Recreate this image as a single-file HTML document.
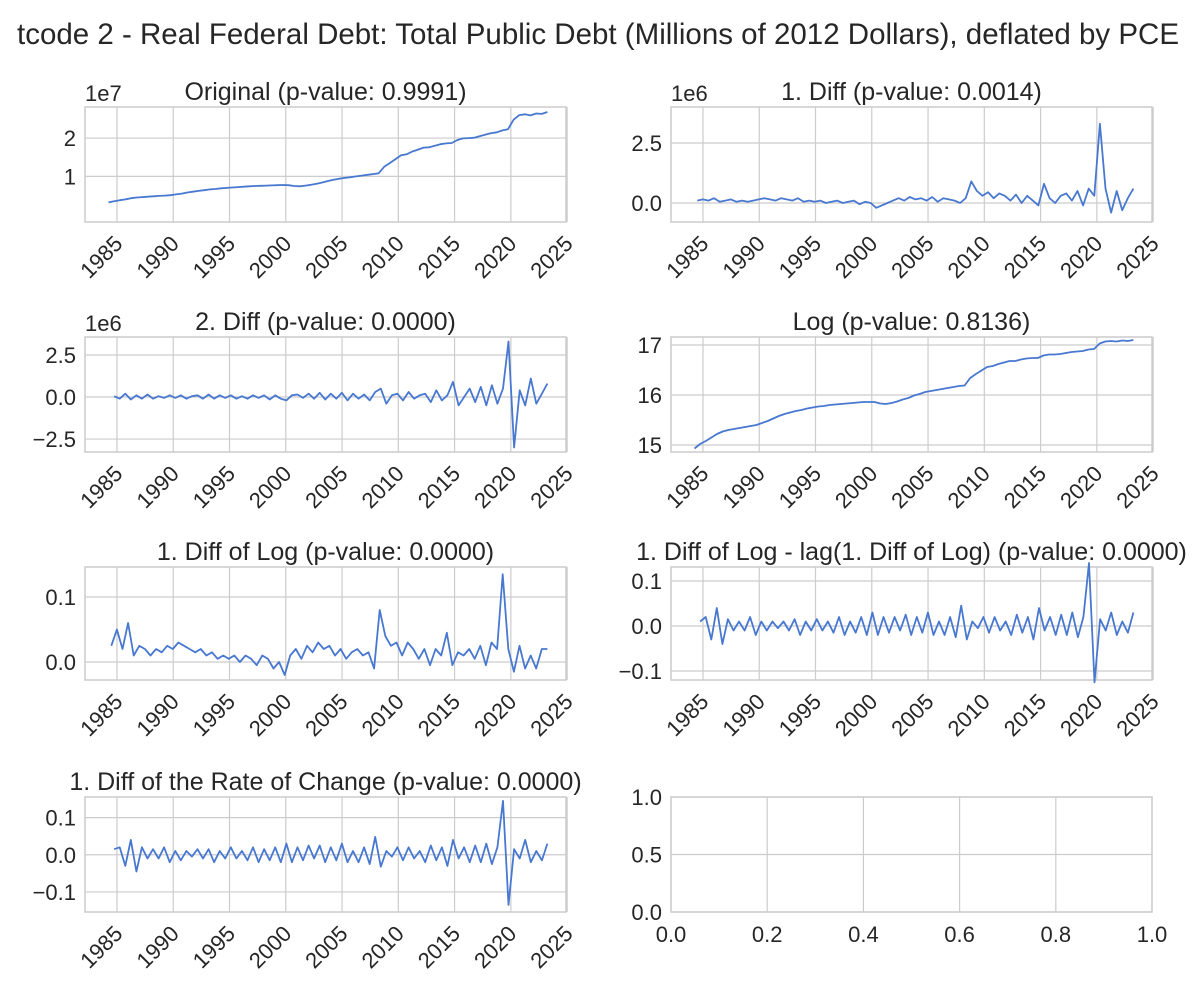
<!DOCTYPE html>
<html><head><meta charset="utf-8">
<style>
html,body{margin:0;padding:0;background:#fff;}
svg{display:block;font-family:"Liberation Sans","DejaVu Sans",sans-serif;}
</style></head>
<body>
<svg id="fig" width="1200" height="1000" viewBox="0 0 1200 1000">
<text x="598" y="44" text-anchor="middle" font-size="29.5" fill="#262626">tcode 2 - Real Federal Debt: Total Public Debt (Millions of 2012 Dollars), deflated by PCE</text>
</svg>
<script>
const startYear = 1984.0;
const endYear = 2023.25;
const xTickLabels = ['1985','1990','1995','2000','2005','2010','2015','2020','2025'];
const seriesOriginal = [3.2,3.5,3.8,4.0,4.3,4.5,4.6,4.7,4.8,4.9,5.0,5.1,5.3,5.5,5.8,6.0,6.2,6.4,6.6,6.7,6.9,7.0,7.1,7.2,7.3,7.4,7.5,7.55,7.6,7.65,7.7,7.75,7.7,7.5,7.4,7.6,7.8,8.1,8.4,8.8,9.1,9.4,9.6,9.8,10.0,10.2,10.4,10.6,10.8,12.5,13.5,14.5,15.5,15.8,16.5,17.0,17.5,17.6,18.0,18.4,18.6,18.7,19.5,19.9,20.0,20.1,20.5,20.9,21.3,21.5,22.0,22.3,24.8,26.0,26.2,25.9,26.4,26.3,26.8];
const seriesDiff = [0.1,0.15,0.1,0.2,0.05,0.1,0.15,0.05,0.1,0.05,0.1,0.15,0.2,0.15,0.1,0.2,0.15,0.1,0.2,0.05,0.1,0.05,0.1,0.0,0.05,0.1,0.0,0.05,0.1,-0.05,0.05,0.0,-0.2,-0.1,0.0,0.1,0.2,0.1,0.25,0.15,0.2,0.1,0.25,0.05,0.2,0.15,0.1,0.0,0.2,0.9,0.5,0.3,0.45,0.2,0.4,0.3,0.1,0.35,0.0,0.3,0.1,-0.1,0.8,0.2,0.0,0.3,0.4,0.1,0.5,-0.1,0.6,0.3,3.3,0.6,-0.4,0.5,-0.3,0.2,0.6];
const seriesDiff2 = [0.05,-0.1,0.2,-0.15,0.1,-0.1,0.15,-0.1,0.05,-0.05,0.1,-0.05,0.1,-0.1,0.05,0.1,-0.1,0.15,-0.1,0.1,-0.05,0.1,-0.1,0.05,-0.1,0.1,-0.05,0.1,-0.15,0.1,-0.1,-0.2,0.1,0.15,-0.05,0.2,-0.1,0.25,-0.15,0.2,-0.1,0.25,-0.2,0.2,-0.1,0.15,-0.2,0.3,0.5,-0.4,0.1,0.2,-0.2,0.3,-0.1,0.1,0.2,-0.3,0.4,-0.2,0.1,0.9,-0.5,0.0,0.5,-0.3,0.6,-0.5,0.7,-0.4,0.5,3.3,-3.0,0.4,-0.5,1.1,-0.4,0.2,0.8];
const seriesLog = [14.93,15.02,15.08,15.15,15.22,15.27,15.30,15.32,15.34,15.36,15.38,15.40,15.44,15.48,15.53,15.58,15.62,15.65,15.68,15.70,15.73,15.75,15.77,15.78,15.80,15.81,15.82,15.83,15.84,15.85,15.86,15.86,15.86,15.83,15.82,15.84,15.87,15.91,15.94,15.99,16.02,16.06,16.08,16.10,16.12,16.14,16.16,16.18,16.19,16.34,16.42,16.49,16.56,16.58,16.62,16.65,16.68,16.68,16.71,16.73,16.74,16.74,16.79,16.81,16.81,16.82,16.84,16.86,16.87,16.88,16.91,16.92,17.03,17.07,17.08,17.07,17.09,17.08,17.10];
const seriesDiffLog = [0.025,0.05,0.02,0.06,0.01,0.025,0.02,0.01,0.02,0.015,0.025,0.02,0.03,0.025,0.02,0.015,0.02,0.01,0.015,0.005,0.01,0.005,0.01,0.0,0.01,0.005,-0.005,0.01,0.005,-0.01,0.0,-0.02,0.01,0.02,0.005,0.025,0.015,0.03,0.02,0.025,0.01,0.02,0.005,0.015,0.02,0.01,0.015,-0.01,0.08,0.04,0.025,0.03,0.01,0.03,0.02,0.005,0.02,-0.005,0.02,0.01,0.045,-0.005,0.015,0.01,0.02,0.005,0.025,-0.005,0.03,0.02,0.135,0.02,-0.015,0.025,-0.01,0.01,-0.01,0.02,0.02];
const seriesLagDiff = [0.01,0.02,-0.03,0.04,-0.04,0.015,-0.01,0.01,-0.01,0.02,-0.02,0.01,-0.01,0.01,-0.005,0.01,-0.01,0.015,-0.02,0.01,-0.01,0.015,-0.01,0.01,-0.015,0.02,-0.02,0.01,-0.015,0.02,-0.02,0.03,-0.02,0.02,-0.015,0.02,-0.01,0.025,-0.02,0.02,-0.015,0.03,-0.02,0.01,-0.02,0.02,-0.025,0.045,-0.03,0.01,-0.005,0.02,-0.015,0.02,-0.01,0.01,-0.02,0.025,-0.015,0.02,-0.03,0.04,-0.01,0.02,-0.02,0.025,-0.02,0.03,-0.025,0.02,0.14,-0.125,0.015,-0.01,0.03,-0.02,0.01,-0.015,0.03];
const seriesRateDiff = [0.015,0.02,-0.03,0.04,-0.045,0.02,-0.01,0.015,-0.01,0.02,-0.02,0.01,-0.015,0.01,-0.005,0.015,-0.01,0.015,-0.02,0.01,-0.01,0.02,-0.01,0.01,-0.015,0.02,-0.02,0.015,-0.015,0.02,-0.02,0.03,-0.02,0.02,-0.015,0.025,-0.01,0.025,-0.02,0.02,-0.015,0.03,-0.02,0.01,-0.02,0.02,-0.025,0.048,-0.032,0.01,-0.005,0.02,-0.015,0.02,-0.01,0.01,-0.02,0.025,-0.015,0.02,-0.03,0.04,-0.01,0.02,-0.02,0.025,-0.02,0.03,-0.025,0.02,0.145,-0.135,0.015,-0.01,0.04,-0.02,0.01,-0.015,0.03];

const NS='http://www.w3.org/2000/svg';
const svg=document.getElementById('fig');
function mk(tag,attrs,parent){const e=document.createElementNS(NS,tag);for(const k in attrs)e.setAttribute(k,attrs[k]);(parent||svg).appendChild(e);return e;}

const GRID='#cccccc', TXT='#262626', LINE='#4878d0';
const xMin=1982.16, xMax=2024.9;
const TICK=22, TITLE=25;

function panel(cfg){
  const g=mk('g',{});
  
  
  const L=cfg.x0,R=cfg.x1,T=cfg.y0,B=cfg.y1;
  const xs=v=>L+(v-cfg.xmin)/(cfg.xmax-cfg.xmin)*(R-L);
  const ys=v=>B-(v-cfg.ymin)/(cfg.ymax-cfg.ymin)*(B-T);
  cfg.xticks.forEach((v,i)=>{
    const l=mk('line',{x1:xs(v),x2:xs(v),y1:T,y2:B,stroke:GRID,'stroke-width':1.2},g);
    
    
    const tx=xs(v), ty=B+14;
    let t;
    if(cfg.rot){
      t=mk('text',{x:tx+7,y:ty+9,'font-size':TICK,fill:TXT,'text-anchor':'end',transform:`rotate(-45 ${tx+7} ${ty+9})`},g);
    } else {
      t=mk('text',{x:tx,y:B+30,'font-size':TICK,fill:TXT,'text-anchor':'middle'},g);
    }
    t.textContent=cfg.xlabels[i];
    
    
  });
  cfg.yticks.forEach((v,i)=>{
    const l=mk('line',{x1:L,x2:R,y1:ys(v),y2:ys(v),stroke:GRID,'stroke-width':1.2},g);
    
    
    const t=mk('text',{x:L-9,y:ys(v)+8,'font-size':TICK,fill:TXT,'text-anchor':'end'},g);
    t.textContent=cfg.ylabels[i];
    
    
  });
  const fr=mk('rect',{x:L,y:T,width:R-L,height:B-T,fill:'none',stroke:GRID,'stroke-width':1.5},g);
  
  
  if(cfg.data){
    const n=cfg.data.length, s=startYear+cfg.off, st=(endYear-s)/(n-1);
    const pts=cfg.data.map((v,i)=>xs(s+i*st).toFixed(1)+','+ys(v).toFixed(1)).join(' ');
    const p=mk('polyline',{points:pts,fill:'none',stroke:LINE,'stroke-width':1.8,'stroke-linejoin':'round'},g);
    
    
  }
  if(cfg.title){
    const t=mk('text',{x:(L+R)/2,y:T-7,'font-size':TITLE,fill:TXT,'text-anchor':'middle'},g);
    t.textContent=cfg.title;
    
    
  }
  if(cfg.offsetText){
    const t=mk('text',{x:L,y:T-6,'font-size':TICK,fill:TXT,'text-anchor':'start'},g);
    t.textContent=cfg.offsetText;
    
    
  }
}
const yearTicks=[1985,1990,1995,2000,2005,2010,2015,2020,2025];
const LX0=85,LX1=566,RX0=671,RX1=1152;
const rows=[[107,222],[337,452],[567,680],[797,912]];
const base={xmin:xMin,xmax:xMax,xticks:yearTicks,xlabels:xTickLabels,rot:true};

panel({...base,name:'panel-original',x0:LX0,x1:LX1,y0:rows[0][0],y1:rows[0][1],ymin:-1.9,ymax:28.1,yticks:[10,20],ylabels:['1','2'],data:seriesOriginal,off:0.25,title:'Original (p-value: 0.9991)',offsetText:'1e7'});
panel({...base,name:'panel-first-diff',x0:RX0,x1:RX1,y0:rows[0][0],y1:rows[0][1],ymin:-0.79,ymax:4.0,yticks:[0,2.5],ylabels:['0.0','2.5'],data:seriesDiff,off:0.5,title:'1. Diff (p-value: 0.0014)',offsetText:'1e6'});
panel({...base,name:'panel-second-diff',x0:LX0,x1:LX1,y0:rows[1][0],y1:rows[1][1],ymin:-3.27,ymax:3.57,yticks:[-2.5,0,2.5],ylabels:['−2.5','0.0','2.5'],data:seriesDiff2,off:0.75,title:'2. Diff (p-value: 0.0000)',offsetText:'1e6'});
panel({...base,name:'panel-log',x0:RX0,x1:RX1,y0:rows[1][0],y1:rows[1][1],ymin:14.86,ymax:17.16,yticks:[15,16,17],ylabels:['15','16','17'],data:seriesLog,off:0.25,title:'Log (p-value: 0.8136)'});
panel({...base,name:'panel-diff-log',x0:LX0,x1:LX1,y0:rows[2][0],y1:rows[2][1],ymin:-0.0277,ymax:0.1462,yticks:[0,0.1],ylabels:['0.0','0.1'],data:seriesDiffLog,off:0.5,title:'1. Diff of Log (p-value: 0.0000)'});
panel({...base,name:'panel-lag-diff-log',x0:RX0,x1:RX1,y0:rows[2][0],y1:rows[2][1],ymin:-0.12,ymax:0.1311,yticks:[-0.1,0,0.1],ylabels:['−0.1','0.0','0.1'],data:seriesLagDiff,off:0.75,title:'1. Diff of Log - lag(1. Diff of Log) (p-value: 0.0000)'});
panel({...base,name:'panel-rate-diff',x0:LX0,x1:LX1,y0:rows[3][0],y1:rows[3][1],ymin:-0.154,ymax:0.1554,yticks:[-0.1,0,0.1],ylabels:['−0.1','0.0','0.1'],data:seriesRateDiff,off:0.75,title:'1. Diff of the Rate of Change (p-value: 0.0000)'});
panel({name:'panel-empty',x0:RX0,x1:RX1,y0:rows[3][0],y1:rows[3][1],xmin:0,xmax:1,ymin:0,ymax:1,xticks:[0,0.2,0.4,0.6,0.8,1],xlabels:['0.0','0.2','0.4','0.6','0.8','1.0'],rot:false,yticks:[0,0.5,1],ylabels:['0.0','0.5','1.0']});
</script>
</body></html>
